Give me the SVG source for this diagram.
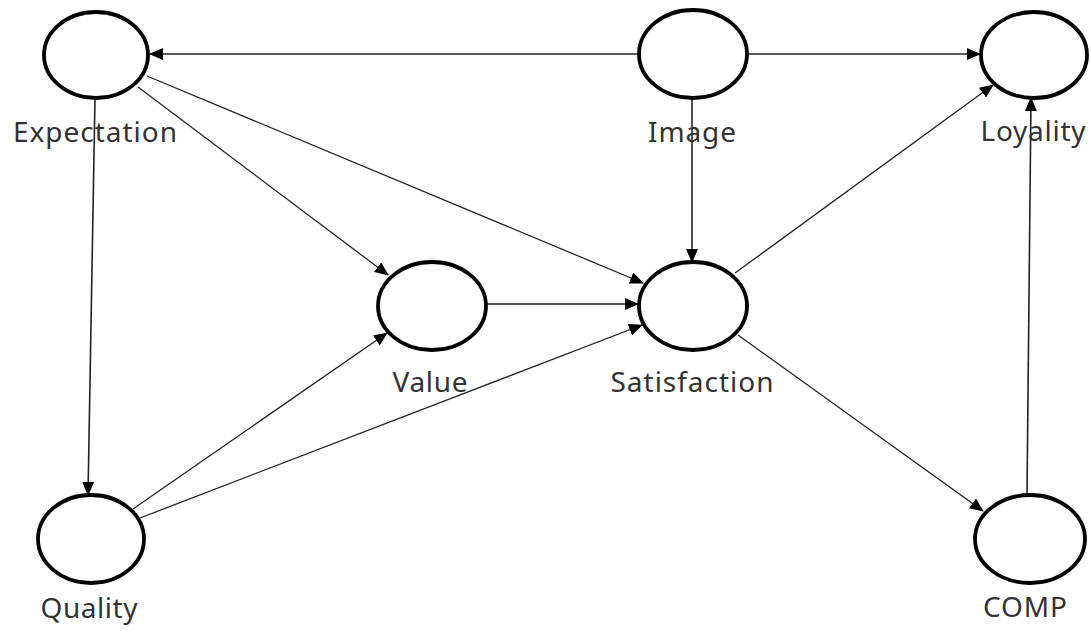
<svg xmlns="http://www.w3.org/2000/svg" width="1091" height="635" viewBox="0 0 1091 635">
<style>
.node ellipse{fill:#fff;stroke:#000;stroke-width:3.8}
.node text{font-family:"Noto Sans","Open Sans",sans-serif;font-size:28px;fill:#333;text-anchor:middle}
.edges line{stroke:#222;stroke-width:1.3;marker-end:url(#arr)}
.edges line.hv{stroke-width:1.6}
</style>
<defs>
<marker id="arr" markerUnits="userSpaceOnUse" markerWidth="14" markerHeight="12" viewBox="0 0 14 12" refX="13" refY="6" orient="auto">
<path d="M0,0 L14,6 L0,12 z" fill="#000"/>
</marker>
</defs>
<rect width="1091" height="635" fill="#fff"/>
<g class="edges">
<line class="hv" x1="638" y1="54" x2="150" y2="54"/>
<line class="hv" x1="748" y1="54" x2="980" y2="54"/>
<line class="hv" x1="692" y1="98" x2="692" y2="262"/>
<line x1="138" y1="87" x2="388" y2="275"/>
<line x1="147" y1="76" x2="643" y2="283"/>
<line class="hv" x1="95" y1="98" x2="88" y2="495"/>
<line x1="133" y1="509" x2="387" y2="333"/>
<line x1="140" y1="518" x2="642" y2="325"/>
<line class="hv" x1="487" y1="304" x2="638" y2="304"/>
<line x1="735" y1="273" x2="993" y2="85"/>
<line x1="738" y1="335" x2="983" y2="511"/>
<line class="hv" x1="1027" y1="495" x2="1031" y2="98"/>
</g>
<g id="expectation" class="node"><ellipse cx="96" cy="55" rx="52" ry="43"/><text x="95" y="142" textLength="164" lengthAdjust="spacing">Expectation</text></g>
<g id="image" class="node"><ellipse cx="693" cy="54" rx="54" ry="44"/><text x="692" y="142" textLength="88" lengthAdjust="spacing">Image</text></g>
<g id="loyality" class="node"><ellipse cx="1034" cy="55" rx="53" ry="43"/><text x="1033" y="141" textLength="105" lengthAdjust="spacing">Loyality</text></g>
<g id="value" class="node"><ellipse cx="432" cy="306" rx="54" ry="44"/><text x="430" y="392" textLength="75" lengthAdjust="spacing">Value</text></g>
<g id="satisfaction" class="node"><ellipse cx="693" cy="306" rx="54" ry="44"/><text x="692" y="392" textLength="163" lengthAdjust="spacing">Satisfaction</text></g>
<g id="quality" class="node"><ellipse cx="91" cy="539" rx="53" ry="44"/><text x="89" y="618" textLength="97" lengthAdjust="spacing">Quality</text></g>
<g id="comp" class="node"><ellipse cx="1030" cy="539" rx="55" ry="44"/><text x="1025" y="617" textLength="84" lengthAdjust="spacing">COMP</text></g>
</svg>
